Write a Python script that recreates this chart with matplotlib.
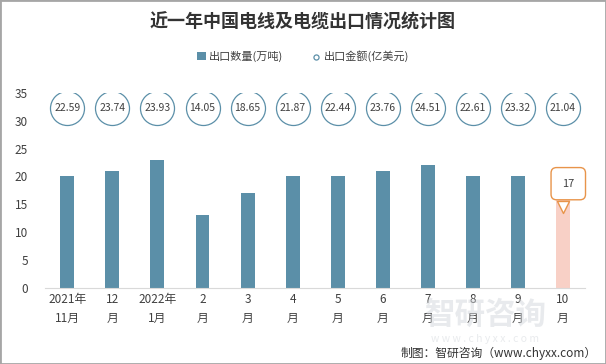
import matplotlib.pyplot as plt
from matplotlib.patches import Rectangle

plt.rcParams['font.family'] = ['Noto Sans CJK SC', 'DejaVu Sans']

# ---------------- data ---------------- #
months = ['2021年\n11月', '12\n月', '2022年\n1月', '2\n月', '3\n月', '4\n月',
          '5\n月', '6\n月', '7\n月', '8\n月', '9\n月', '10\n月']
volume = [20, 21, 23, 13, 17, 20, 20, 21, 22, 20, 20, 17]          # 万吨
amount = [22.59, 23.74, 23.93, 14.05, 18.65, 21.87, 22.44, 23.76,
          24.51, 22.61, 23.32, 21.04]                                # 亿美元
circle_level = 32.3

bar_color = '#5B8FA8'
last_color = '#F8D0C6'
call_color = '#E8944A'
text_color = '#404040'

fig = plt.figure(figsize=(6.06, 3.64), dpi=100)
ax = fig.add_axes([0.074, 0.209, 0.892, 0.536])

x = range(len(months))
colors = [bar_color] * (len(months) - 1) + [last_color]
bars = ax.bar(x, volume, width=0.31, color=colors, label='出口数量(万吨)', zorder=2)

# amount circles with values inside
circ = ax.scatter(x, [circle_level] * len(x), s=600, facecolor='white',
                  edgecolor='#5B8FA8', linewidth=0.9, zorder=3, label='出口金额(亿美元)')
for i, v in enumerate(amount):
    ax.text(i, circle_level, f'{v:.2f}', ha='center', va='center',
            fontsize=7.5, color=text_color, zorder=4)

# callout on the last bar: pointer + box
last = len(x) - 1
ax.scatter([last], [volume[-1] - 2.4], marker='v', s=75, facecolor='white',
           edgecolor=call_color, linewidth=1, zorder=5)
ax.text(last + 0.12, volume[-1] + 1.7, str(volume[-1]), ha='center', va='center',
        fontsize=8, color=text_color, zorder=6,
        bbox=dict(boxstyle='round,pad=1.0,rounding_size=0.5', fc='white',
                  ec=call_color, lw=1))

ax.set_xlim(-0.5, len(x) - 0.5)
ax.set_ylim(0, 35)
ax.set_yticks(range(0, 36, 5))
ax.set_xticks(list(x))
ax.set_xticklabels(months, fontsize=8.5, color=text_color, linespacing=1.5)
ax.tick_params(axis='y', labelsize=8.5, labelcolor=text_color, length=0, pad=12)
ax.tick_params(axis='x', length=0, pad=4)
for s in ['top', 'right', 'left']:
    ax.spines[s].set_visible(False)
ax.spines['bottom'].set_color('#D9D9D9')

fig.text(0.5, 0.94, '近一年中国电线及电缆出口情况统计图', ha='center', va='center',
         fontsize=13, fontweight='bold', color='#333333')
fig.legend(handles=[bars, circ], loc='center', bbox_to_anchor=(0.5, 0.845), ncol=2,
           frameon=False, fontsize=8, handlelength=0.8, handletextpad=0.3,
           columnspacing=2.5, markerscale=0.15, labelcolor=text_color)

# watermark and source
fig.text(0.80, 0.135, '智研咨询', fontsize=22, color='#D3D7DC', alpha=0.5,
         ha='center', va='center', fontweight='bold', zorder=0)
fig.text(0.80, 0.07, 'w w w . c h y x x . c o m', fontsize=7.5, color='#D3D7DC',
         alpha=0.5, ha='center', va='center', zorder=0)
fig.text(0.985, 0.03, '制图：智研咨询（www.chyxx.com）', fontsize=8.5,
         color='#333333', ha='right', va='center')

fig.patches.append(Rectangle((0, 0), 1, 1, transform=fig.transFigure,
                             fill=False, ec='#A6A6A6', lw=2))

fig.savefig('out.png', dpi=100)
